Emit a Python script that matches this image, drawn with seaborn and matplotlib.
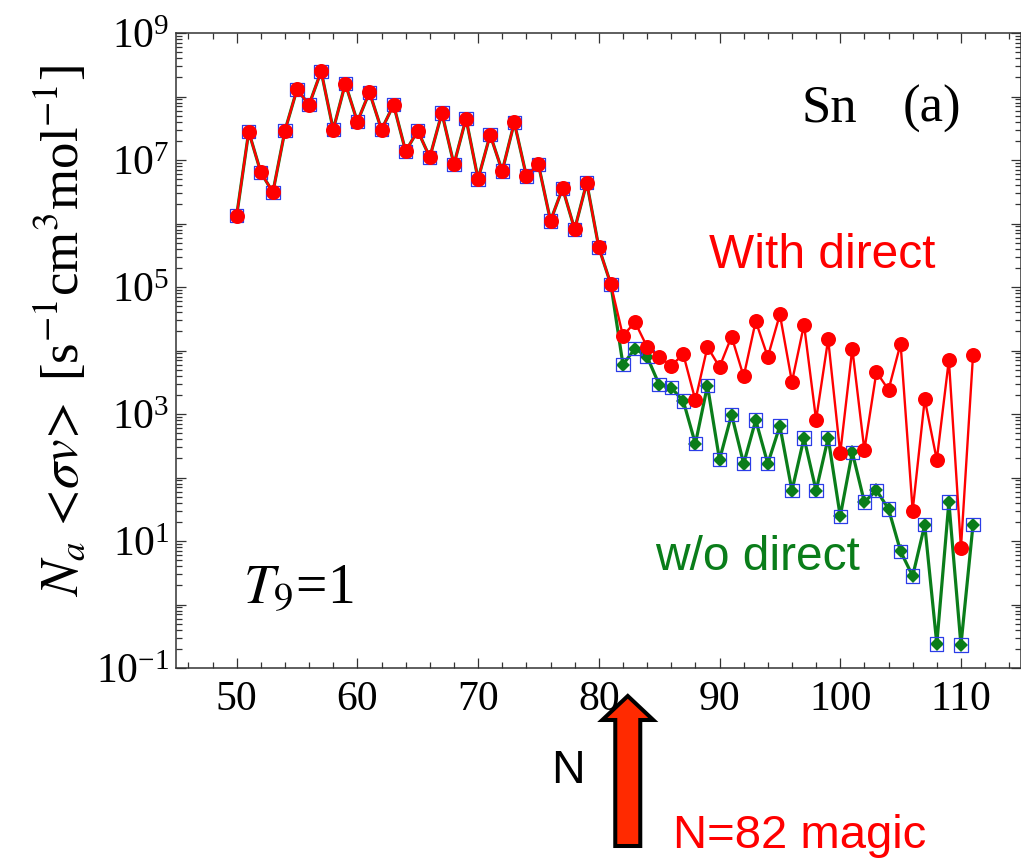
import numpy as np
import pandas as pd
import matplotlib
matplotlib.use("Agg")
import matplotlib.pyplot as plt
import matplotlib.ticker as mticker
from matplotlib.patches import FancyArrow
from matplotlib.transforms import IdentityTransform
import seaborn as sns

# Neutron-capture rates of Sn isotopes at T9 = 1
neutron_number = list(range(50, 112))

rate_with_direct = [
    1.33e6, 2.8e7, 6.4e6, 3.1e6, 2.9e7, 1.3e8, 7.4e7, 2.5e8, 3.0e7, 1.6e8,
    4.0e7, 1.17e8, 3.0e7, 7.4e7, 1.37e7, 2.9e7, 1.1e7, 5.5e7, 8.5e6, 4.5e7,
    5.0e6, 2.5e7, 6.7e6, 3.9e7, 5.6e6, 8.5e6, 1.1e6, 3.6e6, 8.1e5, 4.4e6,
    4.2e5, 1.1e5,
    1.7e4, 2.8e4, 1.14e4, 7.9e3, 5.8e3, 8.7e3, 1.65e3, 1.14e4, 5.5e3, 1.66e4,
    3.9e3, 2.9e4, 7.9e3, 3.7e4, 3.2e3, 2.55e4, 8.1e2, 1.5e4, 2.4e2, 1.07e4,
    2.7e2, 4.6e3, 2.4e3, 1.28e4, 30.0, 1.7e3, 1.9e2, 7.1e3, 7.7, 8.4e3,
]

rate_without_direct = [
    1.33e6, 2.8e7, 6.4e6, 3.1e6, 2.9e7, 1.3e8, 7.4e7, 2.5e8, 3.0e7, 1.6e8,
    4.0e7, 1.17e8, 3.0e7, 7.4e7, 1.37e7, 2.9e7, 1.1e7, 5.5e7, 8.5e6, 4.5e7,
    5.0e6, 2.5e7, 6.7e6, 3.9e7, 5.6e6, 8.5e6, 1.1e6, 3.6e6, 8.1e5, 4.4e6,
    4.2e5, 1.1e5,
    6.0e3, 1.07e4, 8.0e3, 2.9e3, 2.6e3, 1.6e3, 3.4e2, 2.8e3, 1.9e2, 9.8e2,
    1.65e2, 8.0e2, 1.65e2, 6.5e2, 62.0, 4.2e2, 62.0, 4.2e2, 24.5, 2.5e2,
    41.0, 63.0, 32.0, 6.9, 2.8, 18.0, 0.24, 41.0, 0.23, 18.0,
]

x_ticks = [50, 60, 70, 80, 90, 100, 110]
magic_n = 82.4

RED = "#ff0000"
GREEN = "#0a7d1a"
BLUE = "#2b3de8"
ARROW_FILL = "#ff2a00"
AXIS_GREY = "#333333"

sns.set_theme(style="ticks")
plt.rcParams.update({
    "font.family": ["Liberation Serif", "DejaVu Serif"],
    "mathtext.fontset": "stix",
    "text.color": "black",
    "axes.labelcolor": "black",
    "axes.facecolor": "white",
    "figure.facecolor": "white",
    "axes.edgecolor": AXIS_GREY,
    "axes.linewidth": 1.1,
    "xtick.color": AXIS_GREY,
    "ytick.color": AXIS_GREY,
    "xtick.labelcolor": "black",
    "ytick.labelcolor": "black",
})

W, H = 1021, 859
fig = plt.figure(figsize=(W / 100, H / 100), dpi=100)
ax = fig.add_axes([176.3 / W, (H - 668) / H, 845 / W, 635 / H])
ax.set_yscale("log")

df = pd.DataFrame({
    "N": neutron_number,
    "with_direct": rate_with_direct,
    "without_direct": rate_without_direct,
})

sns.lineplot(data=df, x="N", y="without_direct", estimator=None, sort=True,
             color=GREEN, linewidth=2.3, marker="D", markersize=7.3,
             markeredgewidth=0, ax=ax, zorder=2)
sns.scatterplot(data=df, x="N", y="without_direct", marker="s", s=92,
                facecolor="none", edgecolor=BLUE, linewidth=0.9,
                ax=ax, zorder=3)
sns.lineplot(data=df, x="N", y="with_direct", estimator=None, sort=True,
             color=RED, linewidth=1.7, marker="o", markersize=10.8,
             markeredgewidth=0, ax=ax, zorder=4)

ax.set_xlim(45, 115)
ax.set_ylim(1e-1, 1e9)

ax.xaxis.set_major_locator(mticker.FixedLocator(x_ticks))
ax.xaxis.set_minor_locator(mticker.MultipleLocator(2))
ax.yaxis.set_major_locator(mticker.LogLocator(base=10, numticks=20))
ax.yaxis.set_minor_locator(mticker.LogLocator(base=10, subs=np.arange(2, 10), numticks=20))


def decade_label(value, pos):
    exponent = int(round(np.log10(value)))
    if exponent % 2:
        return rf"$\mathdefault{{10^{{{exponent}}}}}$"
    return ""


ax.yaxis.set_major_formatter(mticker.FuncFormatter(decade_label))
ax.yaxis.set_minor_formatter(mticker.NullFormatter())

ax.tick_params(which="both", direction="in", top=True, right=True)
ax.tick_params(which="major", length=7.5, width=0.9, labelsize=30)
ax.tick_params(which="minor", length=4, width=0.9)
ax.tick_params(axis="x", which="major", pad=9)
ax.tick_params(axis="y", which="major", pad=5)

ax.set_xlabel("")
ax.set_ylabel(r"$N_a\,<\!\sigma v\!>$ [s$^{-1}$cm$^{3}$mol$^{-1}$]",
              fontsize=38, va="center", ha="center")
ax.yaxis.set_label_coords(61 / W, 1 - 331 / H, transform=fig.transFigure)

ax.text(0.079, 0.102, r"$T_{9}$=1", transform=ax.transAxes,
        fontsize=40, va="baseline", ha="left")
ax.text(0.740, 0.860, "Sn", transform=ax.transAxes,
        fontsize=38, va="baseline", ha="left")
ax.text(0.860, 0.860, "(a)", transform=ax.transAxes,
        fontsize=38, va="baseline", ha="left")

ax.text(0.630, 0.630, "With direct", transform=ax.transAxes, color=RED,
        family="Liberation Sans", fontsize=34.5, va="baseline", ha="left")
ax.text(0.5665, 0.154, "w/o direct", transform=ax.transAxes, color=GREEN,
        family="Liberation Sans", fontsize=34.5, va="baseline", ha="left")

fig.text(551 / W, (H - 783) / H, "N", family="Liberation Sans",
         color="black", fontsize=33.5, va="baseline", ha="left")
fig.text(673 / W, (H - 848) / H, "N=82 magic", family="Liberation Sans",
         color=RED, fontsize=34, va="baseline", ha="left")

# Upward arrow below the axis pointing at the N = 82 shell closure
arrow_x = ax.transData.transform((magic_n, 1.0))[0]
arrow = FancyArrow(arrow_x, 13, 0, 150, width=25, head_width=51,
                   head_length=24, length_includes_head=True,
                   transform=IdentityTransform(), facecolor=ARROW_FILL,
                   edgecolor="black", linewidth=2.9, joinstyle="miter",
                   clip_on=False)
fig.add_artist(arrow)

fig.savefig("out.png", dpi=100, facecolor="white")
